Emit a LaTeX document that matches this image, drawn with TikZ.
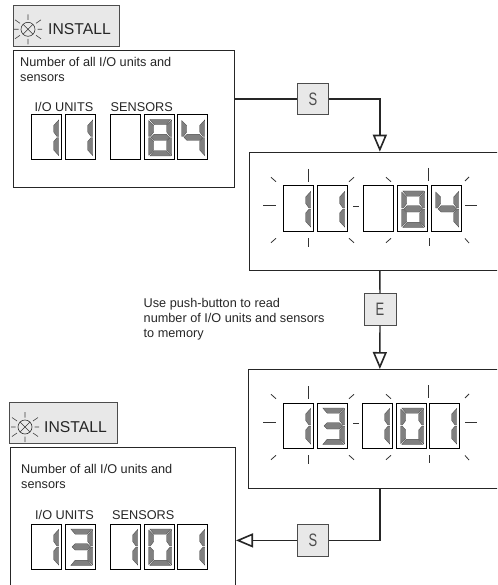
\documentclass[tikz,border=0pt]{standalone}
\usepackage{fontspec}
\usetikzlibrary{arrows.meta}
\setmainfont{Liberation Sans}
\tikzset{
  every picture/.style={x=1pt,y=-1pt},
  panel/.style={draw=black!85,line width=0.7pt,fill=white,inner sep=0pt,anchor=north west},
  tag/.style={draw=black!70,line width=0.8pt,fill=black!9,inner sep=0pt,anchor=north west},
  cell/.style={draw=black,line width=1pt,fill=white},
  seg/.style={draw=black!70,line width=0.35pt,fill=black!50},
  flow/.style={draw=black!85,line width=1.3pt},
  flowtip/.style={-{Triangle[open,length=17pt,width=14pt,line width=1.6pt,fill=white]}},
  ray/.style={draw=black!80,line width=0.8pt},
  txt/.style={font=\fontsize{12.7}{14.8}\selectfont,align=left,anchor=north west,inner sep=0pt,text=black!85},
  lbl/.style={font=\fontsize{12.7}{14.8}\selectfont,anchor=base west,inner sep=0pt,text=black!85},
  big/.style={font=\fontsize{15.7}{18}\selectfont,anchor=west,inner sep=0pt,text=black!85},
  let/.style={font=\fontsize{18}{20}\selectfont,text=black!70,inner sep=0pt,xscale=0.72},
}
\newcommand{\segA}{\fill[seg] (5.8,5)--(26.7,5)--(22.3,10.2)--(10.2,10.2)--cycle;}
\newcommand{\segG}{\fill[seg] (7,22.9)--(10.2,19.7)--(22.3,19.7)--(25.5,22.9)--(22.3,26)--(10.2,26)--cycle;}
\newcommand{\segD}{\fill[seg] (10.2,36.2)--(22.3,36.2)--(26.7,41.5)--(5.8,41.5)--cycle;}
\newcommand{\segF}{\fill[seg] (4.7,6)--(9.7,11.2)--(9.7,17.5)--(6.3,22)--(4.7,22)--cycle;}
\newcommand{\segE}{\fill[seg] (4.7,23.2)--(6.3,23.2)--(9.7,27)--(9.7,35.5)--(4.7,40.7)--cycle;}
\newcommand{\segB}{\fill[seg] (27.7,5.5)--(22.7,11)--(22.7,17.5)--(26,22)--(27.7,22)--cycle;}
\newcommand{\segC}{\fill[seg] (27.7,23.2)--(26,23.2)--(22.7,27)--(22.7,35.5)--(27.7,41)--cycle;}
\newcommand{\digit}[3]{\begin{scope}[shift={(#1,#2)}]\draw[cell] (0,0) rectangle (30.5,45);#3\end{scope}}
\newcommand{\dOne}{\segB\segC}
\newcommand{\dThree}{\segA\segB\segG\segC\segD}
\newcommand{\dFour}{\segF\segG\segB\segC}
\newcommand{\dEight}{\segA\segB\segC\segD\segE\segF\segG}
\newcommand{\dZero}{\segA\segB\segC\segD\segE\segF}
\newcommand{\rays}[2]{\begin{scope}[shift={(#1,#2)}]
  \draw[ray] (-20,19.7)--(-7,19.7) (70,20.7)--(76,20.7) (182,19)--(194,19);
  \draw[ray] (25,-17)--(25,-4.3) (25,52.3)--(25,60.7) (145,-18)--(145,-5) (146,52)--(146,60);
  \draw[ray] (-12,-8.7)--(-7,-4.3) (-7,52.3)--(-12,56.7) (71,-8.7)--(66,-4.3) (71,56.7)--(66,52.3);
  \draw[ray] (103,-8.7)--(108,-4.3) (108,52.3)--(103,56.7) (186,-9)--(182,-5) (186,57)--(182,52.5);
\end{scope}}
\newcommand{\lamp}[2]{\begin{scope}[shift={(#1,#2)}]
  \draw[black!80,line width=0.6pt] (0,0) circle (7);
  \draw[black!80,line width=0.6pt] (-5,-5)--(5,5) (-5,5)--(5,-5);
  \draw[black!75,line width=0.6pt] (-14,0)--(-9.5,0) (9.5,0)--(14,0) (0,-15)--(0,-9.5) (0,9.5)--(0,15)
    (-13,-9.5)--(-8,-6) (13,-9.5)--(8,-6) (-13,9.5)--(-8,6) (13,9.5)--(8,6);
\end{scope}}
\begin{document}
\begin{tikzpicture}
\useasboundingbox (0,0) rectangle (497,585);
\clip (0,0) rectangle (497,585);
\node[tag,minimum width=106.5pt,minimum height=41pt] (tagA) at (12.7,5) {};
\node[panel,minimum width=221.5pt,minimum height=137pt] (boxA) at (12.7,50) {};
\node[panel,minimum width=261pt,minimum height=118.5pt] (boxB) at (249,151.7) {};
\node[panel,minimum width=263pt,minimum height=118.7pt] (boxC) at (248,369) {};
\node[tag,minimum width=108pt,minimum height=41pt] (tagD) at (9.3,402) {};
\node[panel,minimum width=225.3pt,minimum height=150pt] (boxD) at (10,447) {};
\node[tag,minimum width=31pt,minimum height=31pt] (s1) at (297,83) {};
\node[let] at (s1.center) {S};
\node[tag,minimum width=32pt,minimum height=32pt] (e1) at (363.5,293) {};
\node[let] at (e1.center) {E};
\node[tag,minimum width=31pt,minimum height=32pt] (s2) at (297,524) {};
\node[let] at (s2.center) {S};
\draw[flow] (boxA.east |- s1.west) -- (s1.west);
\draw[flow,flowtip] (s1.east) -| (boxB.north);
\draw[flow] (boxB.south) -- (e1.north);
\draw[flow,flowtip] (e1.south) -- (boxC.north);
\draw[flow] (boxC.south) |- (s2.east);
\draw[flow,flowtip] (s2.west) -- (boxD.east |- s2.west);
\lamp{28}{29.3}
\node[big] at (48,29.5) {INSTALL};
\lamp{25}{427}
\node[big] at (44,427) {INSTALL};
\node[txt] at (20,57) {Number of all I/O units and\\sensors};
\node[txt] at (21,464) {Number of all I/O units and\\sensors};
\node[lbl] at (34.5,112) {I/O UNITS};
\node[lbl] at (110.5,112) {SENSORS};
\node[lbl] at (35,519) {I/O UNITS};
\node[lbl] at (112,519) {SENSORS};
\node[txt] at (143.5,298) {Use push-button to read\\number of I/O units and sensors\\to memory};
\digit{31}{114.5}{\dOne}\digit{65}{114.5}{\dOne}\digit{110}{114.5}{}\digit{144}{114.5}{\dEight}\digit{177}{114.5}{\dFour}
\digit{283}{186}{\dOne}\digit{317}{186}{\dOne}\digit{363}{186}{}\digit{397}{186}{\dEight}\digit{431}{186}{\dFour}
\rays{283}{186}
\digit{283}{403}{\dOne}\digit{317}{403}{\dThree}\digit{362}{403}{\dOne}\digit{396}{403}{\dZero}\digit{429}{403}{\dOne}
\rays{283}{403}
\digit{31}{524}{\dOne}\digit{65}{524}{\dThree}\digit{110}{524}{\dOne}\digit{144}{524}{\dZero}\digit{177}{524}{\dOne}
\end{tikzpicture}
\end{document}
